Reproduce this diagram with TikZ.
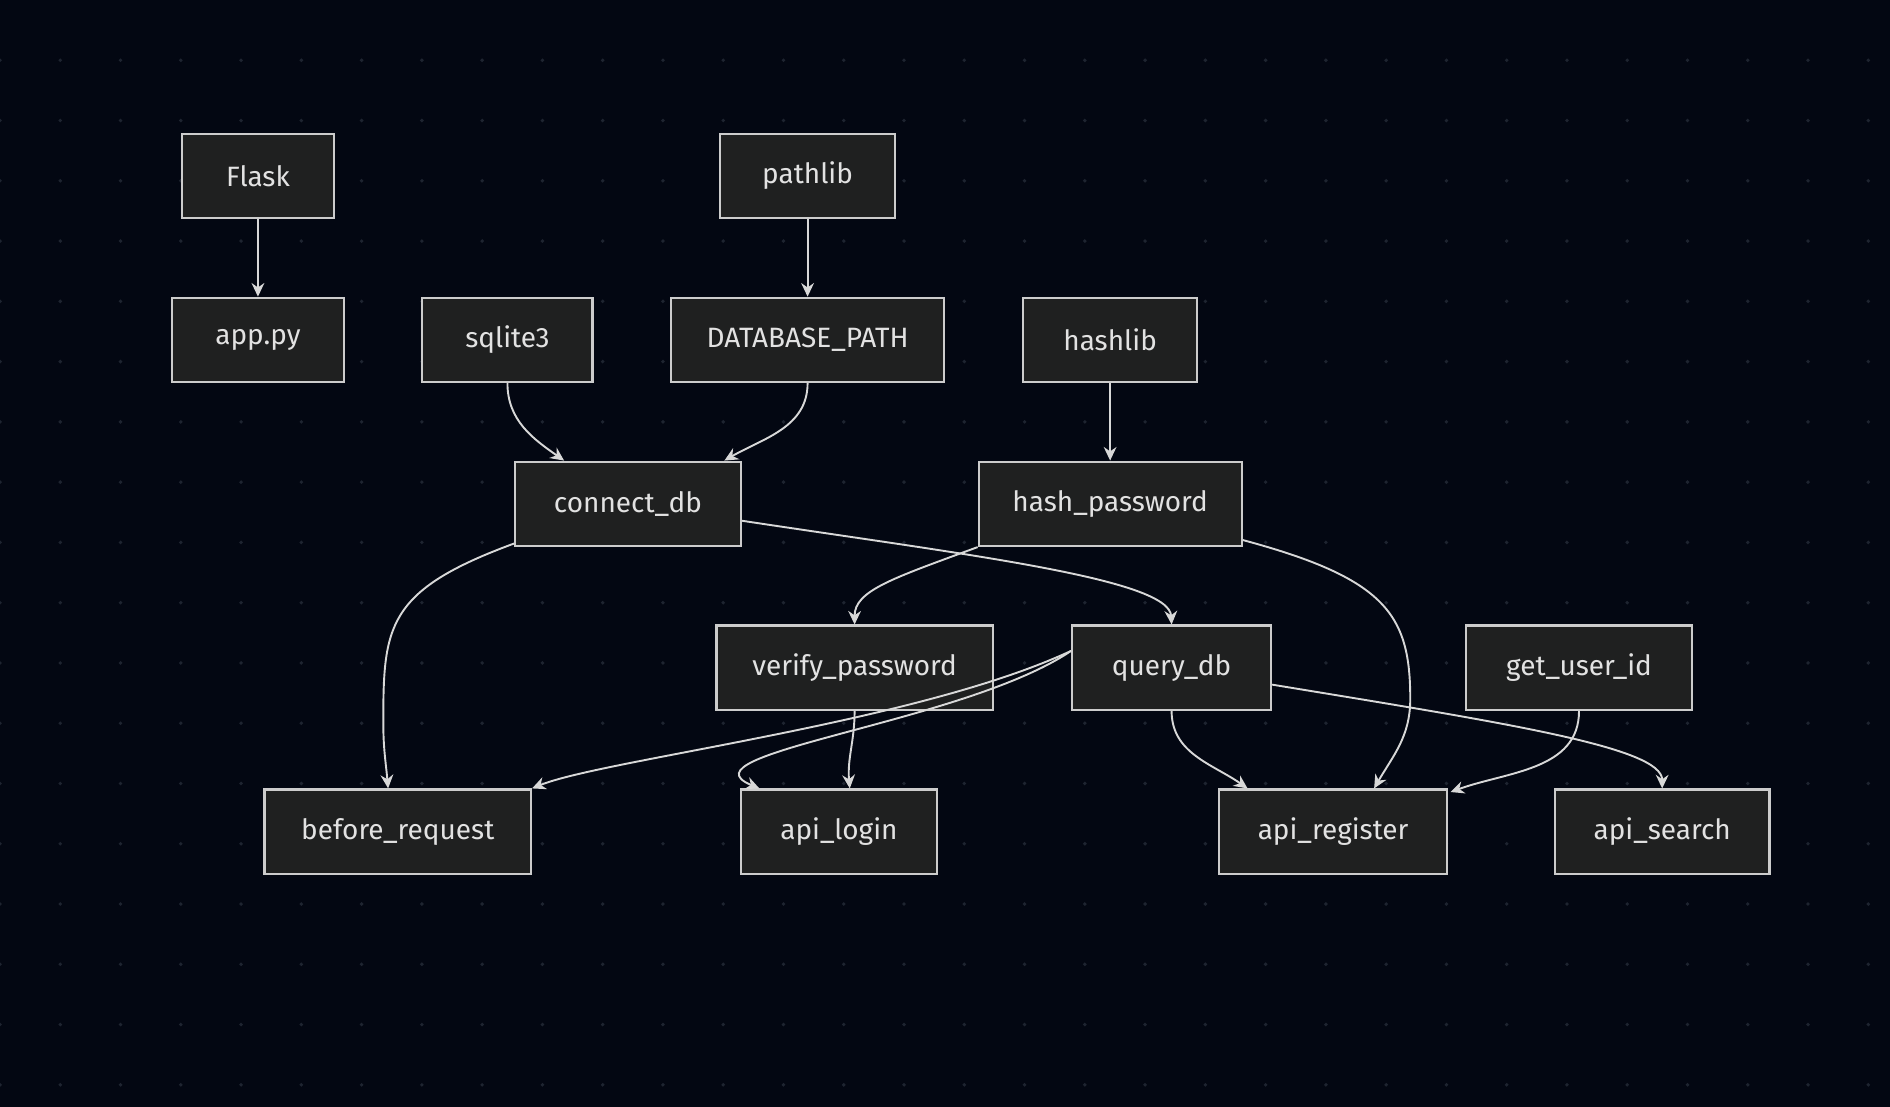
\documentclass[tikz,border=0pt]{standalone}
\usepackage{fontspec}
\setmainfont{Fira Sans}
\usetikzlibrary{positioning,calc,arrows.meta}
\definecolor{bgcol}{HTML}{030712}
\definecolor{dotcol}{HTML}{1E2430}
\definecolor{boxfill}{HTML}{1F2020}
\definecolor{boxline}{HTML}{CCCCCC}
\definecolor{txtcol}{HTML}{E2E2E2}
\definecolor{edgecol}{HTML}{D8D8D8}
\begin{document}
\begin{tikzpicture}[x=0.01cm,y=0.01cm,
  box/.style={draw=boxline,fill=boxfill,text=txtcol,minimum height=0.7cm,
    inner sep=0pt,line width=0.5pt,font=\fontsize{6.6}{8}\selectfont},
  link/.style={draw=edgecol,line width=0.45pt,-{Stealth[length=3.2pt,width=3pt]}}]
% background
\fill[bgcol] (0,0) rectangle (1568,-918);
\useasboundingbox (0,0) rectangle (1568,-918);
\foreach \i in {0,...,31}
  \foreach \j in {1,...,18}
    \fill[dotcol] (\i*50,-\j*50) circle (1.6);
% nodes
\node[box,minimum width=1.26cm] (flask) at (214,-146) {Flask};
\node[box,minimum width=1.45cm] (pathlib) at (670,-146) {pathlib};
\node[box,minimum width=1.42cm] (app) at (214,-282) {app.py};
\node[box,minimum width=1.41cm] (sqlite) at (421,-282) {sqlite3};
\node[box,minimum width=2.26cm] (dbpath) at (670,-282) {DATABASE\_PATH};
\node[box,minimum width=1.44cm] (hashlib) at (921,-282) {hashlib};
\node[box,minimum width=1.87cm] (connect) at (521,-418) {connect\_db};
\node[box,minimum width=2.18cm] (hashpw) at (921,-418) {hash\_password};
\node[box,minimum width=2.29cm] (verify) at (709,-554) {verify\_password};
\node[box,minimum width=1.65cm] (query) at (972,-554) {query\_db};
\node[box,minimum width=1.87cm] (userid) at (1310,-554) {get\_user\_id};
\node[box,minimum width=2.21cm] (before) at (330,-690) {before\_request};
\node[box,minimum width=1.63cm] (login) at (696,-690) {api\_login};
\node[box,minimum width=1.89cm] (register) at (1106,-690) {api\_register};
\node[box,minimum width=1.78cm] (search) at (1379,-690) {api\_search};
% edges
\draw[link] (flask) -- (app);
\draw[link] (pathlib) -- (dbpath);
\draw[link] (hashlib) -- (hashpw);
\draw[link] (sqlite.south) to[out=-90,in=145] ($(connect.north)+(-53,0)$);
\draw[link] (dbpath.south) to[out=-90,in=30] ($(connect.north)+(80,0)$);
\draw[link] ($(connect.south west)+(0,3)$) .. controls (320,-490) and (318,-520) .. (318,-600) to[out=-90,in=95] ($(before.north)+(-8,0)$);
\draw[link] ($(connect.east)+(0,-14)$) .. controls (800,-460) and (970,-480) .. (query.north);
\draw[link] (hashpw.south west) .. controls (740,-480) and (709,-490) .. (verify.north);
\draw[link] ($(hashpw.east)+(0,-30)$) .. controls (1150,-480) and (1170,-510) .. (1170,-580) to[out=-90,in=60] ($(register.north)+(34,0)$);
\draw[link] ($(query.west)+(0,14)$) .. controls (760,-600) and (500,-630) .. (before.north east);
\draw[link] ($(query.west)+(0,14)$) .. controls (800,-600) and (560,-625) .. ($(login.north)+(-66,0)$);
\draw[link] (verify.south) to[out=-90,in=95] ($(login.north)+(9,0)$);
\draw[link] (query.south) to[out=-90,in=145] ($(register.north)+(-71,0)$);
\draw[link] ($(query.east)+(0,-14)$) .. controls (1250,-600) and (1379,-620) .. (search.north);
\draw[link] (userid.south) to[out=-90,in=20] ($(register.north east)+(2,-3)$);
\end{tikzpicture}
\end{document}
